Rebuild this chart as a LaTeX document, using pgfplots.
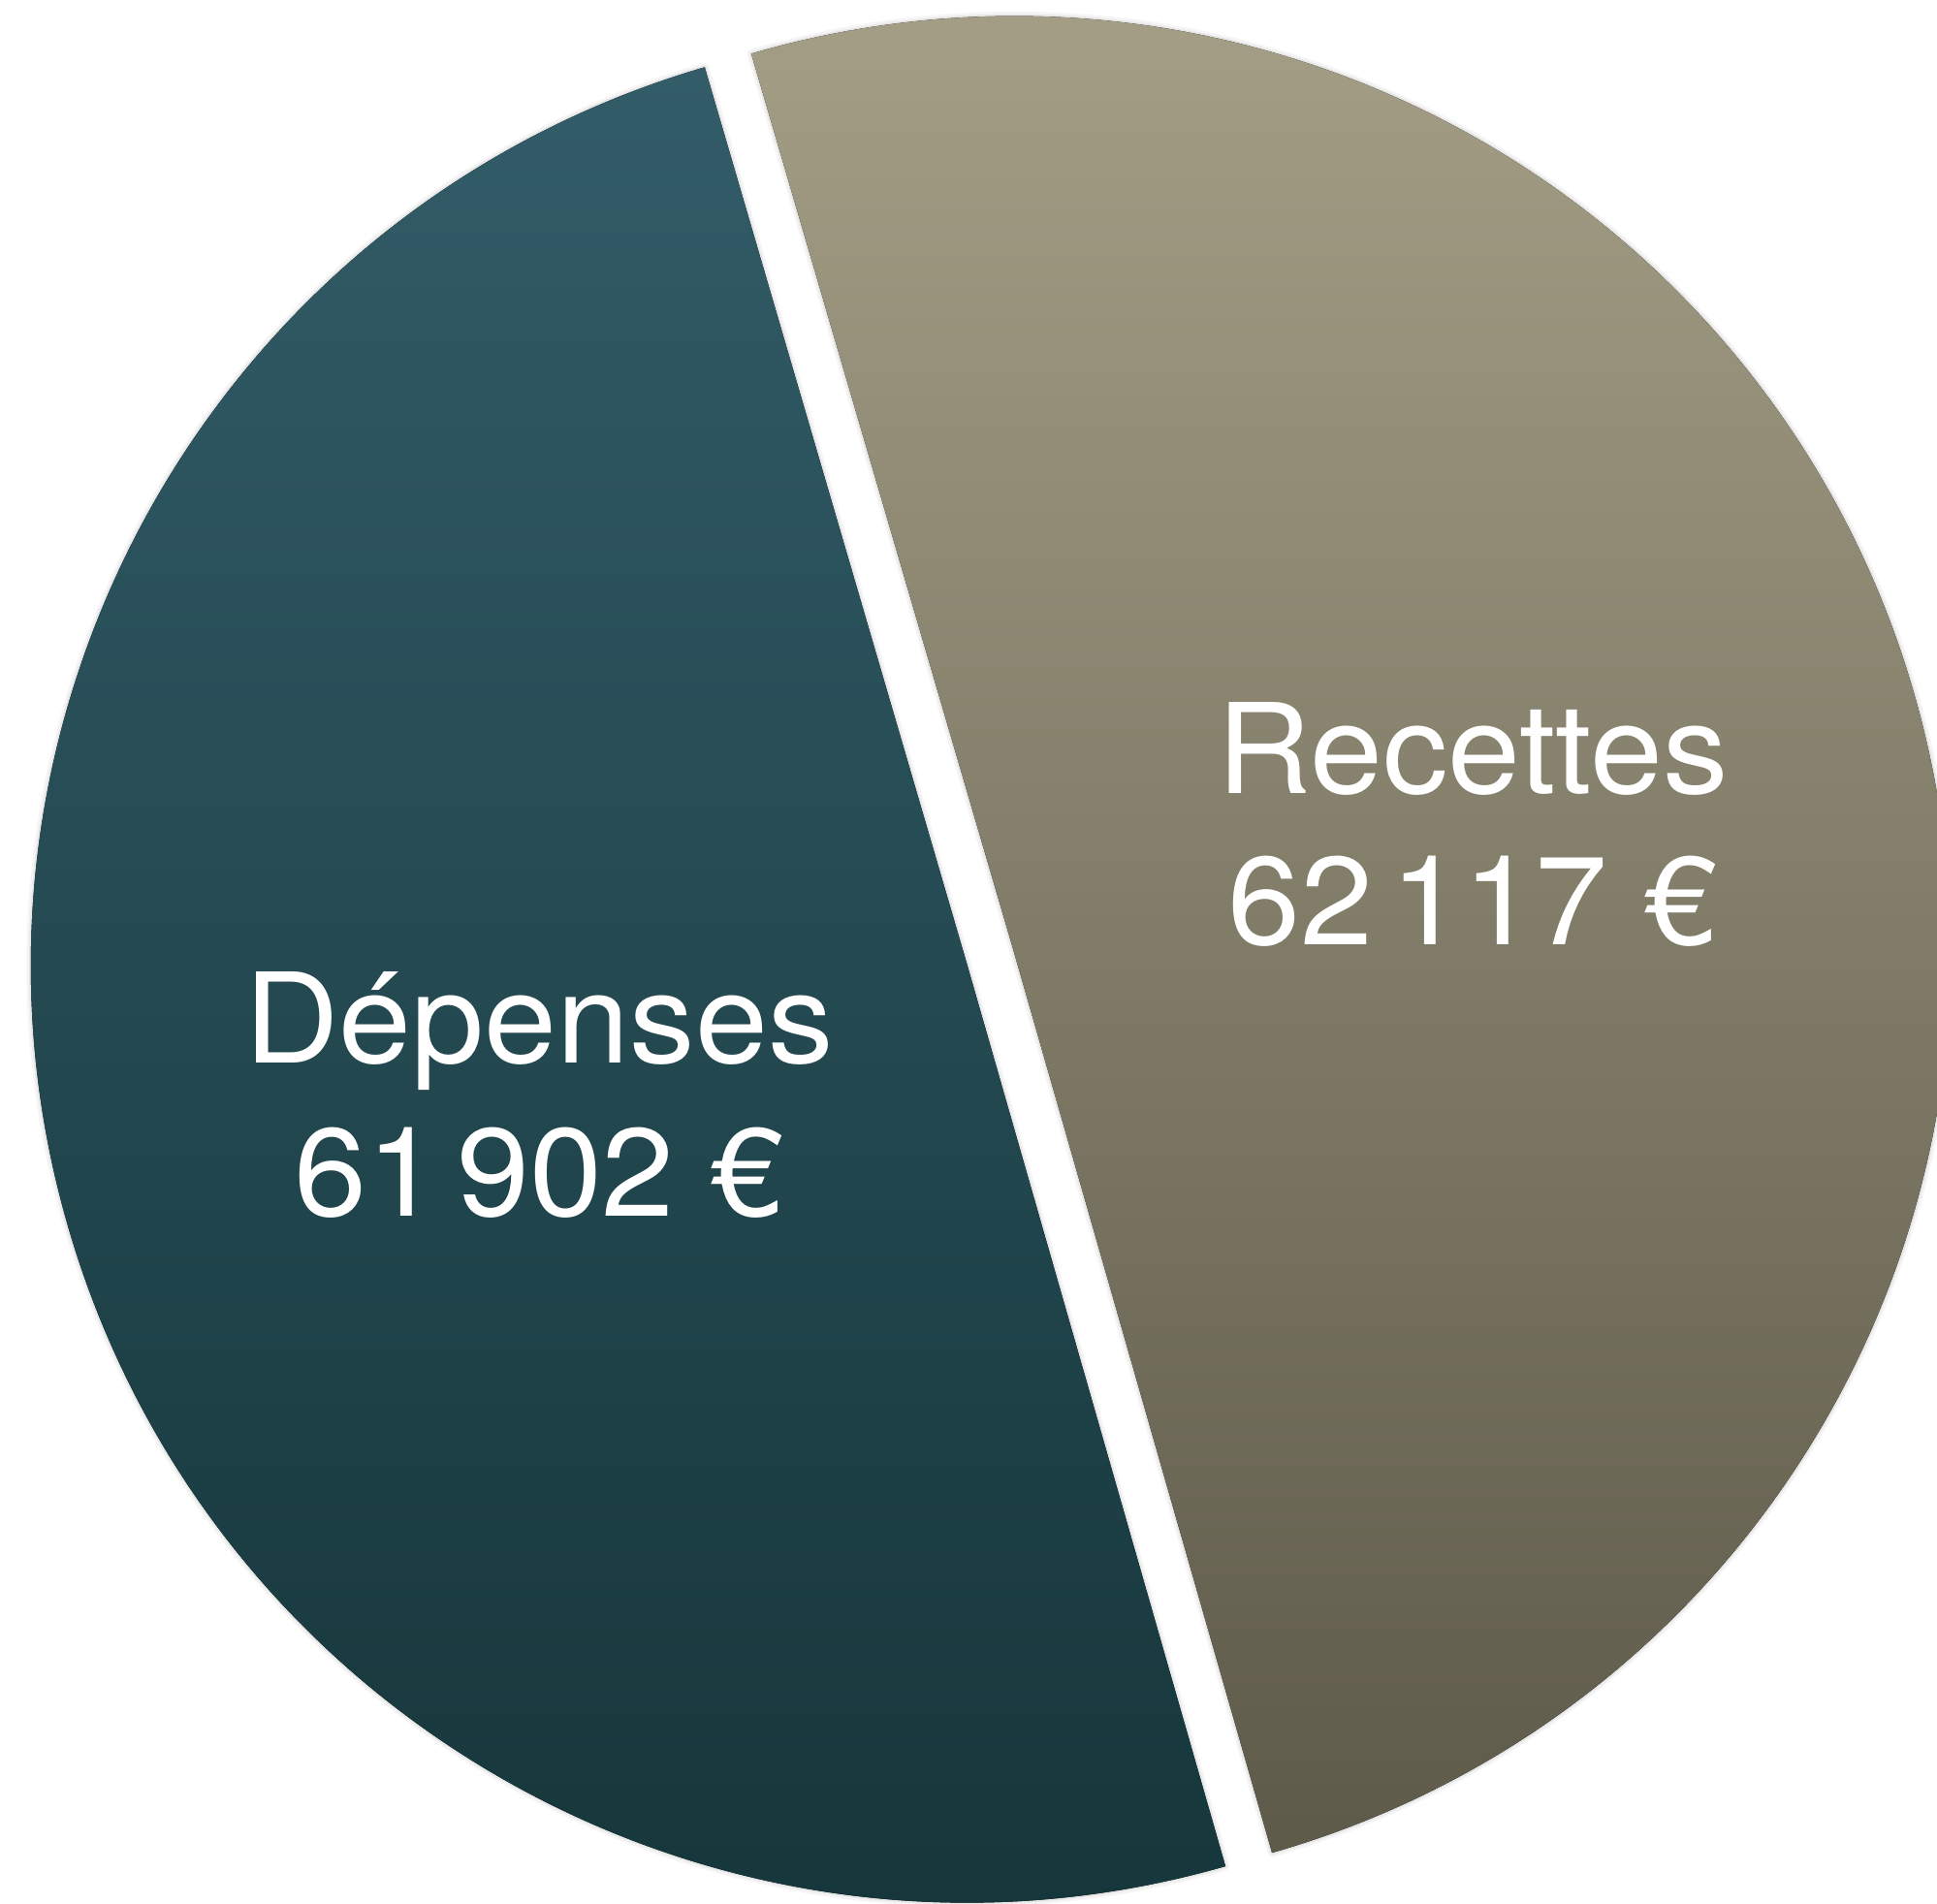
\documentclass[border=0pt]{standalone}
\usepackage{pgfplots}
\usepackage{pgfplotstable}
\pgfplotsset{compat=1.18}
\usepackage{graphicx}
\usepackage{fontspec}
\setmainfont{TeX Gyre Heros}

\definecolor{depTop}{HTML}{325C68}
\definecolor{depBot}{HTML}{143438}
\definecolor{recTop}{HTML}{A49E86}
\definecolor{recBot}{HTML}{5E5A4A}

% budget split, in euros
\pgfplotstableread[col sep=comma]{
part,value
0,61902
1,62117
}\budget

\newcommand\lbl[1]{\scalebox{1.045}[1]{#1}}

\begin{document}
\begin{tikzpicture}
\pgfplotstablegetelem{0}{value}\of\budget \let\dep\pgfplotsretval
\pgfplotstablegetelem{1}{value}\of\budget \let\rec\pgfplotsretval
% angles (l3fp, the values are too big for pgfmath)
\edef\sweep{\fpeval{\dep/(\dep+\rec)*360}}
\def\aA{106.3}
\edef\aB{\fpeval{\aA+\sweep}}
\edef\aC{\fpeval{\aA+360}}
% exploded centres
\edef\dcx{\fpeval{1022+25*cosd(\aA+\sweep/2)}}
\edef\dcy{\fpeval{974.5+25*sind(\aA+\sweep/2)}}
\edef\rcx{\fpeval{1022+25*cosd((\aB+\aC)/2)}}
\edef\rcy{\fpeval{974.5+25*sind((\aB+\aC)/2)}}
\def\rad{9.66cm}
\begin{axis}[
  scale only axis, width=19.98cm, height=19.64cm,
  xmin=0, xmax=1998, ymin=0, ymax=1964,
  hide axis, clip=true,
]
% soft shadows
\draw[black, opacity=0.04, line width=0.09cm, line join=round]
  (axis cs:\dcx,\dcy) -- ++(\aA:\rad) arc[start angle=\aA, end angle=\aB, radius=\rad] -- cycle;
\draw[black, opacity=0.06, line width=0.04cm, line join=round]
  (axis cs:\dcx,\dcy) -- ++(\aA:\rad) arc[start angle=\aA, end angle=\aB, radius=\rad] -- cycle;
\draw[black, opacity=0.04, line width=0.09cm, line join=round]
  (axis cs:\rcx,\rcy) -- ++(\aB:\rad) arc[start angle=\aB, end angle=\aC, radius=\rad] -- cycle;
\draw[black, opacity=0.06, line width=0.04cm, line join=round]
  (axis cs:\rcx,\rcy) -- ++(\aB:\rad) arc[start angle=\aB, end angle=\aC, radius=\rad] -- cycle;
% slices
\fill[top color=depTop, bottom color=depBot]
  (axis cs:\dcx,\dcy) -- ++(\aA:\rad) arc[start angle=\aA, end angle=\aB, radius=\rad] -- cycle;
\fill[top color=recTop, bottom color=recBot]
  (axis cs:\rcx,\rcy) -- ++(\aB:\rad) arc[start angle=\aB, end angle=\aC, radius=\rad] -- cycle;
% labels
\node[white, anchor=base, inner sep=0pt, font=\fontsize{36.7pt}{44pt}\selectfont] at (axis cs:556,867) {\lbl{Dépenses}};
\node[white, anchor=base, inner sep=0pt, font=\fontsize{36.7pt}{44pt}\selectfont] at (axis cs:556,709) {\lbl{61\kern0.13em902 €}};
\node[white, anchor=base, inner sep=0pt, font=\fontsize{36.7pt}{44pt}\selectfont] at (axis cs:1519,1145) {\lbl{Recettes}};
\node[white, anchor=base, inner sep=0pt, font=\fontsize{36.7pt}{44pt}\selectfont] at (axis cs:1519,989) {\lbl{62\kern0.13em117 €}};
\end{axis}
\pgfresetboundingbox
\path[use as bounding box] (current axis.south west) rectangle (current axis.north east);
\end{tikzpicture}
\end{document}
